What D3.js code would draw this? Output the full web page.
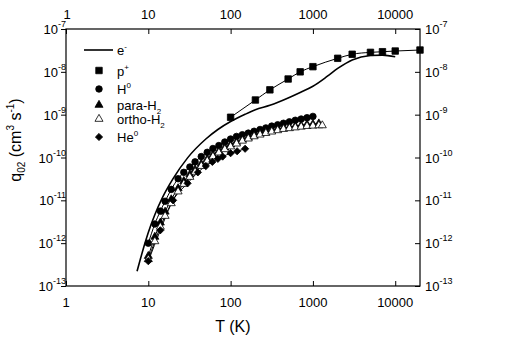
<!DOCTYPE html>
<html>
<head>
<meta charset="utf-8">
<script src="https://cdn.jsdelivr.net/npm/d3@7"></script>
<style>
  body { margin: 0; background: #fff; }
  text { font-family: "Liberation Sans", Arial, sans-serif; fill: #000; }
</style>
</head>
<body>
<svg id="chart" width="518" height="361"></svg>
<script>
// electron impact (solid line only)
const T_e = [7.3, 8, 9, 10, 12, 15, 20, 30, 50, 70, 100, 150, 200, 300, 500, 700, 1000, 1500, 2000, 3000, 5000, 7000, 10000];
const Q_e = [2.2e-13, 4.2e-13, 9.3e-13, 1.78e-12, 4.6e-12, 1.2e-11, 3.2e-11, 9.8e-11, 2.7e-10, 4.5e-10, 6.9e-10, 1.02e-9, 1.3e-9, 1.65e-9, 2.45e-9, 3.3e-9, 4.6e-9, 7.9e-9, 1.2e-8, 1.9e-8, 2.4e-8, 2.45e-8, 2.25e-8];

// protons
const T_p = [100, 200, 300, 500, 700, 1000, 2000, 3000, 5000, 7000, 10000, 20000];
const Q_p = [8.7e-10, 2.2e-9, 3.8e-9, 6.8e-9, 1.0e-8, 1.32e-8, 2.07e-8, 2.57e-8, 2.85e-8, 2.95e-8, 3.06e-8, 3.23e-8];

// atomic hydrogen
const T_H = [10, 12, 14, 16, 19, 23, 27, 32, 37, 44, 52, 61, 72, 85, 100, 118, 139, 164, 193, 228, 268, 316, 373, 439, 518, 611, 720, 848, 1000];
const Q_H = [1.0e-12, 2.8e-12, 5.6e-12, 9.5e-12, 1.8e-11, 3.2e-11, 4.5e-11, 6.0e-11, 7.9e-11, 1.05e-10, 1.32e-10, 1.62e-10, 1.9e-10, 2.3e-10, 2.7e-10, 3.1e-10, 3.4e-10, 3.7e-10, 4.1e-10, 4.5e-10, 4.9e-10, 5.4e-10, 5.8e-10, 6.3e-10, 6.8e-10, 7.4e-10, 7.9e-10, 8.5e-10, 9.1e-10];

// para-H2
const T_pH2 = [10, 12, 14, 16, 19, 23, 27, 32, 37, 44, 52, 61, 72, 85, 100, 118, 139, 164, 193, 228, 268, 316, 373, 439, 518, 611, 720, 848, 1000, 1180];
const Q_pH2 = [5.0e-13, 1.4e-12, 3.0e-12, 5.4e-12, 1.05e-11, 1.9e-11, 2.8e-11, 4.0e-11, 5.2e-11, 7.1e-11, 9.1e-11, 1.15e-10, 1.4e-10, 1.7e-10, 2.0e-10, 2.3e-10, 2.6e-10, 2.95e-10, 3.3e-10, 3.6e-10, 4.0e-10, 4.3e-10, 4.6e-10, 4.9e-10, 5.1e-10, 5.4e-10, 5.6e-10, 5.9e-10, 6.0e-10, 6.2e-10];

// ortho-H2
const T_oH2 = [10, 12, 14, 16, 19, 23, 27, 32, 37, 44, 52, 61, 72, 85, 100, 118, 139, 164, 193, 228, 268, 316, 373, 439, 518, 611, 720, 848, 1000, 1180, 1300];
const Q_oH2 = [4.2e-13, 1.1e-12, 2.4e-12, 4.3e-12, 8.5e-12, 1.6e-11, 2.4e-11, 3.5e-11, 4.6e-11, 6.3e-11, 8.3e-11, 1.05e-10, 1.3e-10, 1.55e-10, 1.8e-10, 2.1e-10, 2.45e-10, 2.75e-10, 3.1e-10, 3.4e-10, 3.7e-10, 4.0e-10, 4.3e-10, 4.6e-10, 4.8e-10, 5.0e-10, 5.2e-10, 5.4e-10, 5.5e-10, 5.6e-10, 5.6e-10];

// helium
const T_He = [10, 14, 20, 30, 40, 50, 60, 70, 80, 100, 120, 150];
const Q_He = [3.8e-13, 2.0e-12, 1.0e-11, 2.5e-11, 4.5e-11, 6.3e-11, 7.9e-11, 9.3e-11, 1.05e-10, 1.26e-10, 1.4e-10, 1.6e-10];

const xTicks = [1, 10, 100, 1000, 10000];
const yExps = [-7, -8, -9, -10, -11, -12, -13];

let svg = d3.select('#chart');

let x = d3.scaleLog().domain([1, 20000]).range([66, 420]);
let y = d3.scaleLog().domain([1e-13, 1e-7]).range([286, 29]);

let minorX = [];
for (let d = 1; d <= 10000; d *= 10) {
  for (let k = 2; k <= 9; k++) if (d * k <= 20000) minorX.push(d * k);
}
let minorY = [];
for (let e = -13; e < -7; e++) {
  for (let k = 2; k <= 9; k++) minorY.push(k * Math.pow(10, e));
}
let majorY = yExps.map(e => Math.pow(10, e));

function drawAxis(axisFn, scale, pos, majors, minors, majLen, minLen) {
  let g = svg.append('g').attr('transform', pos);
  g.call(axisFn(scale).tickValues(minors).tickSize(minLen).tickFormat(''));
  g.call(axisFn(scale).tickValues(majors).tickSize(majLen).tickFormat(''));
  g.selectAll('line').attr('stroke', '#000').attr('stroke-width', 1);
  return g;
}

// frame axes: ticks point inward except the left one
drawAxis(d3.axisBottom, x, 'translate(0,286)', xTicks, minorX, -5, -3);
drawAxis(d3.axisTop, x, 'translate(0,29)', xTicks, minorX, -5, -3);
drawAxis(d3.axisLeft, y, 'translate(66,0)', majorY, minorY, 5, 3);
drawAxis(d3.axisRight, y, 'translate(420,0)', majorY, minorY, -5, -3);
svg.selectAll('.domain').remove();
svg.append('rect').attr('x', 66).attr('y', 29).attr('width', 354).attr('height', 257)
  .attr('fill', 'none').attr('stroke', '#000').attr('stroke-width', 1.2);

// x tick labels top and bottom
[19, 307].forEach(base => {
  svg.selectAll(null).data(xTicks).enter().append('text')
    .attr('x', d => x(d) + (d === 1 && base < 100 ? 1 : 0)).attr('y', base)
    .attr('text-anchor', 'middle').attr('font-size', 13)
    .text(d => d);
});

// y tick labels with superscripts
function expLabel(xPos, anchor) {
  let t = svg.selectAll(null).data(yExps).enter().append('text')
    .attr('x', xPos).attr('y', d => y(Math.pow(10, d)) + 5)
    .attr('text-anchor', anchor).attr('font-size', 13);
  t.append('tspan').text('10');
  t.append('tspan').attr('dy', -7).attr('font-size', 9).text(d => d);
}
expLabel(66, 'end');
expLabel(425, 'start');

// axis titles
svg.append('text').attr('x', 233).attr('y', 332).attr('text-anchor', 'middle')
  .attr('font-size', 16).text('T (K)');

let yt = svg.append('text').attr('transform', 'translate(21,140) rotate(-90)')
  .attr('text-anchor', 'middle').attr('font-size', 16);
yt.append('tspan').text('q');
yt.append('tspan').attr('font-size', 10).attr('dy', 4).text('02');
yt.append('tspan').attr('dy', -4).text(' (cm');
yt.append('tspan').attr('font-size', 10).attr('dy', -7).text('3');
yt.append('tspan').attr('dy', 7).text(' s');
yt.append('tspan').attr('font-size', 10).attr('dy', -7).text('-1');
yt.append('tspan').attr('dy', 7).text(')');

// curves
let line = d3.line().x(d => x(d[0])).y(d => y(d[1])).curve(d3.curveMonotoneX);
let zip = (a, b) => a.map((v, i) => [v, b[i]]);

svg.append('path').datum(zip(T_e, Q_e)).attr('d', line)
  .attr('fill', 'none').attr('stroke', '#000').attr('stroke-width', 1.6);

let series = [
  { T: T_p, Q: Q_p, sym: d3.symbolSquare, size: 42, fill: '#000' },
  { T: T_H, Q: Q_H, sym: d3.symbolCircle, size: 34, fill: '#000' },
  { T: T_pH2, Q: Q_pH2, sym: d3.symbolTriangle, size: 28, fill: '#000' },
  { T: T_oH2, Q: Q_oH2, sym: d3.symbolTriangle, size: 28, fill: '#fff' },
  { T: T_He, Q: Q_He, sym: d3.symbolSquare, size: 26, fill: '#000', rot: 45 }
];

series.forEach(s => {
  svg.append('path').datum(zip(s.T, s.Q)).attr('d', line)
    .attr('fill', 'none').attr('stroke', '#000').attr('stroke-width', 1);
});
series.forEach(s => {
  svg.selectAll(null).data(zip(s.T, s.Q)).enter().append('path')
    .attr('d', d3.symbol().type(s.sym).size(s.size))
    .attr('transform', d => 'translate(' + x(d[0]) + ',' + y(d[1]) + ')' + (s.rot ? ' rotate(' + s.rot + ')' : ''))
    .attr('fill', s.fill).attr('stroke', '#000').attr('stroke-width', 0.8);
});

// legend
let legY = [50, 70.5, 89, 105, 119, 137];
svg.append('line').attr('x1', 84).attr('x2', 113).attr('y1', legY[0]).attr('y2', legY[0])
  .attr('stroke', '#000').attr('stroke-width', 1.6);
series.forEach((s, i) => {
  svg.append('path').attr('d', d3.symbol().type(s.sym).size(s.size))
    .attr('transform', 'translate(99,' + legY[i + 1] + ')' + (s.rot ? ' rotate(' + s.rot + ')' : ''))
    .attr('fill', s.fill).attr('stroke', '#000').attr('stroke-width', 0.8);
});
let legText = [
  [['e', 0, 13], ['-', -6, 8]],
  [['p', 0, 13], ['+', -6, 8]],
  [['H', 0, 13], ['0', -6, 8]],
  [['para-H', 0, 13], ['2', 4, 8]],
  [['ortho-H', 0, 13], ['2', 4, 8]],
  [['He', 0, 13], ['0', -6, 8]]
];
legText.forEach((parts, i) => {
  let t = svg.append('text').attr('x', 117).attr('y', legY[i] + 5).attr('font-size', 13);
  parts.forEach(p => {
    t.append('tspan').attr('font-size', p[2]).attr('baseline-shift', -p[1]).text(p[0]);
  });
});
</script>
</body>
</html>
